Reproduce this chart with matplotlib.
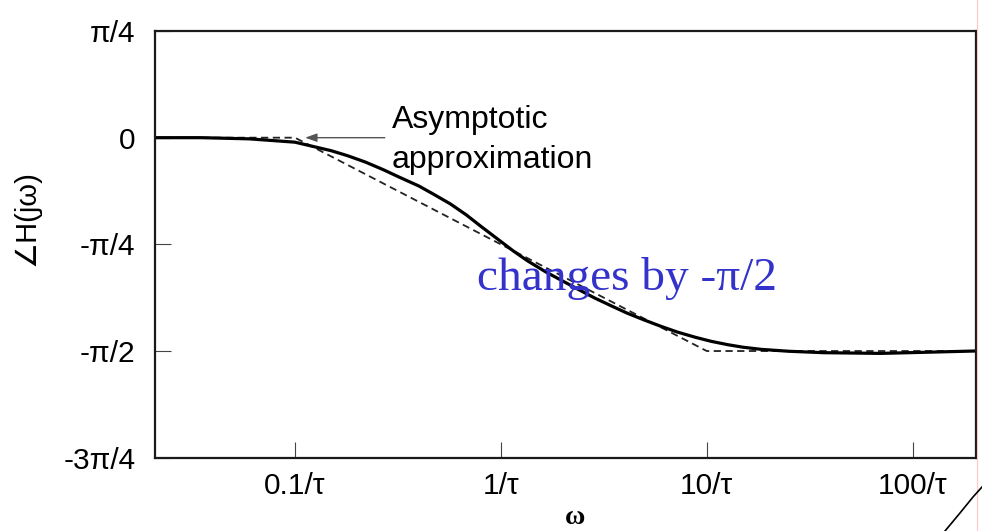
import numpy as np
import matplotlib
matplotlib.use("Agg")
import matplotlib.pyplot as plt
from matplotlib.lines import Line2D

# Phase of H(jw) (w in units of 1/tau, phase in degrees)
omega = [0.021, 0.035, 0.06, 0.1, 0.15, 0.18, 0.22, 0.27, 0.32, 0.4, 0.47,
         0.57, 0.68, 0.8, 1.0, 1.15, 1.35, 1.65, 2.0, 2.4, 2.85, 3.45, 4.1,
         5.0, 6.0, 7.2, 8.8, 10.5, 12.6, 15, 18.4, 25, 37, 70, 200]
phase = [0, 0, -0.5, -1.9, -5.5, -7.6, -10.3, -13.6, -16.6, -20.4, -23.8,
         -28.0, -32.6, -37.4, -43.8, -47.8, -52.0, -56.6, -60.5, -64.2, -67.6,
         -71.0, -74.0, -77.0, -79.6, -82.0, -84.2, -85.9, -87.3, -88.4, -89.3,
         -90.1, -90.7, -91, -90]

# Straight-line asymptotic approximation
asym_omega = [0.021, 0.1, 10, 200]
asym_phase = [0, 0, -90, -90]

xticks = [0.1, 1, 10, 100]
xtick_labels = ["0.1/\u03c4", "1/\u03c4", "10/\u03c4", "100/\u03c4"]
yticks = [45, 0, -45, -90, -135]
ytick_labels = ["\u03c0/4", "0", "-\u03c0/4", "-\u03c0/2", "-3\u03c0/4"]

SANS = ["Liberation Sans", "DejaVu Sans"]
SERIF = ["Liberation Serif", "DejaVu Serif"]

W, H = 982, 531
fig = plt.figure(figsize=(W / 100, H / 100), dpi=100)
ax = fig.add_axes([155 / W, 1 - 457.7 / H, (975.5 - 155) / W, (457.7 - 31) / H])

ax.plot(asym_omega, asym_phase, color="#222222", lw=1.3, ls=(0, (4, 2.5)))
ax.plot(omega, phase, color="black", lw=2.3, solid_joinstyle="round")

ax.set_xscale("log")
ax.set_xlim(0.0209, 202)
ax.set_ylim(-135, 45)

ax.set_xticks(xticks)
ax.set_xticklabels(xtick_labels, fontfamily=SANS, fontsize=21.5)
ax.set_yticks(yticks)
ax.set_yticklabels(ytick_labels, fontfamily=SANS, fontsize=21.5)
ax.xaxis.set_minor_locator(matplotlib.ticker.NullLocator())
ax.tick_params(axis="both", direction="in", length=11.5, width=0.8,
               color="#444444", top=False, right=False)
ax.tick_params(axis="x", pad=10)
ax.tick_params(axis="y", pad=14)
for sp in ax.spines.values():
    sp.set_linewidth(1.6)
    sp.set_color("#1a1a1a")

# arrow + annotation text
ax.annotate("", xy=(0.112, 0), xytext=(0.273, 0),
            arrowprops=dict(arrowstyle="-|>,head_length=0.7,head_width=0.25",
                            color="#555555", lw=1.0, shrinkA=0, shrinkB=0))
fig.text(392 / W, 1 - 128 / H, "Asymptotic", fontfamily=SANS, fontsize=23,
         ha="left", va="baseline")
fig.text(392 / W, 1 - 168 / H, "approximation", fontfamily=SANS, fontsize=23,
         ha="left", va="baseline")

fig.text(477 / W, 1 - 290 / H, "changes by -\u03c0/2", fontfamily=SERIF,
         fontsize=34, color="#3333cc", ha="left", va="baseline")

# axis labels
fig.text(27 / W, 1 - 218 / H, "\u2220H(j\u03c9)", fontfamily=SANS, fontsize=21,
         rotation=90, ha="center", va="center")
fig.text(575 / W, 1 - 517 / H, "\u03c9", fontfamily=SERIF, fontsize=20,
         fontweight="bold", ha="center", va="center")

# slide edge marks
fig.add_artist(Line2D([977 / W, 977 / W], [0, 1], color="#ffc8c8", lw=0.8))
fig.add_artist(Line2D([982 / W, 973 / W, 960 / W, 945 / W],
                      [1 - 487 / H, 1 - 497 / H, 1 - 513 / H, 1 - 531 / H],
                      color="black", lw=1.2))

fig.savefig("out.png", dpi=100)
